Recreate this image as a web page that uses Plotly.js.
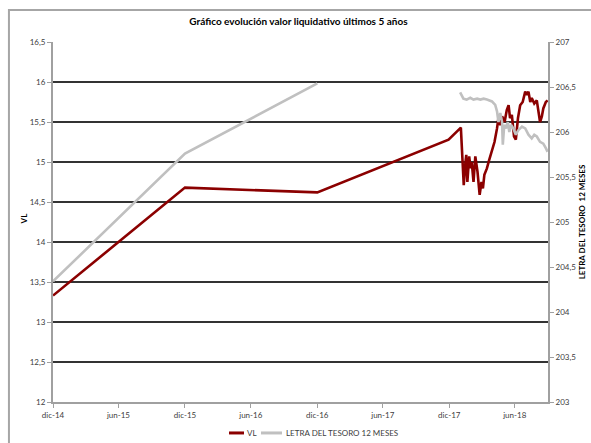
<!DOCTYPE html>
<html>
<head>
<meta charset="utf-8">
<script src="https://cdn.plot.ly/plotly-3.0.1.min.js"></script>
<style>html,body{margin:0;padding:0;background:#fff;}#chart{width:591px;height:443px;}</style>
</head>
<body>
<div id="chart"></div>
<script>
// VL series (left axis)
var vlDates = ["2014-12-31","2015-12-31","2016-12-31","2017-12-29","2018-02-01","2018-02-09","2018-02-13","2018-02-16","2018-02-19","2018-02-24","2018-02-28","2018-03-03","2018-03-08","2018-03-13","2018-03-19","2018-03-25","2018-03-30","2018-04-03","2018-04-07","2018-04-14","2018-04-20","2018-04-28","2018-05-05","2018-05-12","2018-05-16","2018-05-21","2018-05-26","2018-06-02","2018-06-08","2018-06-13","2018-06-17","2018-06-22","2018-06-28","2018-07-03","2018-07-09","2018-07-15","2018-07-22","2018-07-29","2018-08-03","2018-08-07","2018-08-12","2018-08-16","2018-08-23","2018-08-30","2018-09-03","2018-09-08","2018-09-13","2018-09-17","2018-09-24","2018-09-29"];
var vlValues = [13.33,14.68,14.62,15.28,15.43,14.71,14.96,15.09,14.75,15.07,14.92,15.00,14.75,15.07,14.88,14.59,14.75,14.67,14.84,14.92,15.02,15.13,15.25,15.42,15.55,15.46,15.57,15.50,15.65,15.71,15.55,15.59,15.32,15.28,15.55,15.71,15.75,15.88,15.84,15.88,15.75,15.80,15.73,15.77,15.63,15.50,15.57,15.67,15.75,15.77];

// Letra del Tesoro 12 meses series (right axis)
var ltDates = ["2014-12-31","2015-12-31","2016-12-31","2017-06-30","2018-01-30","2018-02-08","2018-02-17","2018-02-27","2018-03-08","2018-03-18","2018-03-27","2018-04-05","2018-04-14","2018-04-28","2018-05-07","2018-05-12","2018-05-16","2018-05-21","2018-05-26","2018-05-28","2018-06-01","2018-06-06","2018-06-11","2018-06-15","2018-06-20","2018-06-26","2018-07-03","2018-07-10","2018-07-20","2018-07-29","2018-08-07","2018-08-16","2018-08-23","2018-08-30","2018-09-08","2018-09-17","2018-09-24","2018-09-29"];
var ltValues = [204.34,205.76,206.54,null,206.44,206.37,206.36,206.38,206.36,206.37,206.36,206.37,206.36,206.34,206.30,206.23,206.11,206.21,206.11,205.86,206.08,206.04,206.11,206.00,206.08,206.04,205.97,206.02,206.06,206.04,205.97,205.93,205.97,205.95,205.89,205.87,205.82,205.78];

// Series names
var seriesNames = ["VL", "LETRA DEL TESORO 12 MESES"];

// Axis ticks
var xTickVals = ["2014-12-31","2015-06-30","2015-12-31","2016-06-30","2016-12-31","2017-06-30","2017-12-31","2018-06-30"];
var xTickText = ["dic-14","jun-15","dic-15","jun-16","dic-16","jun-17","dic-17","jun-18"];
var yTickVals = [12,12.5,13,13.5,14,14.5,15,15.5,16,16.5];
var yTickText = ["12","12,5","13","13,5","14","14,5","15","15,5","16","16,5"];
var y2TickVals = [203,203.5,204,204.5,205,205.5,206,206.5,207];
var y2TickText = ["203","203,5","204","204,5","205","205,5","206","206,5","207"];

var FONT = "Lato, 'Open Sans', sans-serif";
var RED = "#8b0000", GREY = "#c0c0c0";

var traces = [
  {x: vlDates, y: vlValues, name: seriesNames[0], type: "scatter", mode: "lines",
   line: {color: RED, width: 2.6}, yaxis: "y"},
  {x: ltDates, y: ltValues, name: seriesNames[1], type: "scatter", mode: "lines",
   line: {color: GREY, width: 2.6}, yaxis: "y2", connectgaps: false}
];

var LEG_Y = -0.086;
var layout = {
  width: 591, height: 443,
  margin: {l: 53, r: 43, t: 42, b: 41, autoexpand: false},
  paper_bgcolor: "#ffffff", plot_bgcolor: "#ffffff",
  font: {family: FONT, size: 8, color: "#404040"},
  title: {text: "<b>Gráfico evolución valor liquidativo últimos 5 años</b>",
          font: {family: FONT, size: 10, color: "#000"}, x: 0.505, xanchor: "center", y: 0.952, yanchor: "middle"},
  showlegend: false,
  xaxis: {type: "date", range: ["2014-12-31","2018-09-30"], tickmode: "array",
          tickvals: xTickVals, ticktext: xTickText, showgrid: false,
          showline: true, linecolor: "#a0a0a0", linewidth: 2,
          ticks: "outside", ticklen: 4, tickcolor: "#a0a0a0", tickwidth: 1,
          tickfont: {family: FONT, size: 8, color: "#404040"}, zeroline: false},
  yaxis: {range: [12, 16.5], tickmode: "array", tickvals: yTickVals, ticktext: yTickText,
          showgrid: true, gridcolor: "#333333", gridwidth: 2,
          showline: true, linecolor: "#a0a0a0", linewidth: 2,
          ticks: "outside", ticklen: 4, tickcolor: "#a0a0a0",
          tickfont: {family: FONT, size: 8, color: "#404040"}, zeroline: false},
  yaxis2: {range: [203, 207], overlaying: "y", side: "right", tickmode: "array",
           tickvals: y2TickVals, ticktext: y2TickText, showgrid: false,
           showline: true, linecolor: "#a0a0a0", linewidth: 2,
           ticks: "outside", ticklen: 4, tickcolor: "#a0a0a0",
           tickfont: {family: FONT, size: 8, color: "#404040"}, zeroline: false,
           title: {text: "<b>LETRA DEL TESORO  12 MESES</b>", font: {family: FONT, size: 8, color: "#000"}, standoff: 4}},
  shapes: [
    {type: "rect", xref: "paper", yref: "paper", x0: -0.089, x1: 1.3, y0: -0.3, y1: 1.089,
     line: {color: "#a6a6a6", width: 2}, fillcolor: "rgba(0,0,0,0)", layer: "below"},
    {type: "line", xref: "paper", yref: "paper", x0: 0.3556, x1: 0.3859, y0: LEG_Y, y1: LEG_Y,
     line: {color: RED, width: 3}},
    {type: "line", xref: "paper", yref: "paper", x0: 0.4202, x1: 0.4626, y0: LEG_Y, y1: LEG_Y,
     line: {color: GREY, width: 3}}
  ],
  annotations: [
    {xref: "paper", yref: "paper", x: -0.0586, y: 0.51, xanchor: "center", yanchor: "middle",
     textangle: -90, text: "<b>VL</b>", showarrow: false, font: {family: FONT, size: 8, color: "#000"}},
    {xref: "paper", yref: "paper", x: 0.3879, y: LEG_Y, xanchor: "left", yanchor: "middle",
     text: seriesNames[0], showarrow: false, font: {family: FONT, size: 8, color: "#404040"}},
    {xref: "paper", yref: "paper", x: 0.4657, y: LEG_Y, xanchor: "left", yanchor: "middle",
     text: seriesNames[1], showarrow: false, font: {family: FONT, size: 8, color: "#404040"}}
  ]
};

Plotly.newPlot("chart", traces, layout, {displayModeBar: false, staticPlot: true});
</script>
</body>
</html>
